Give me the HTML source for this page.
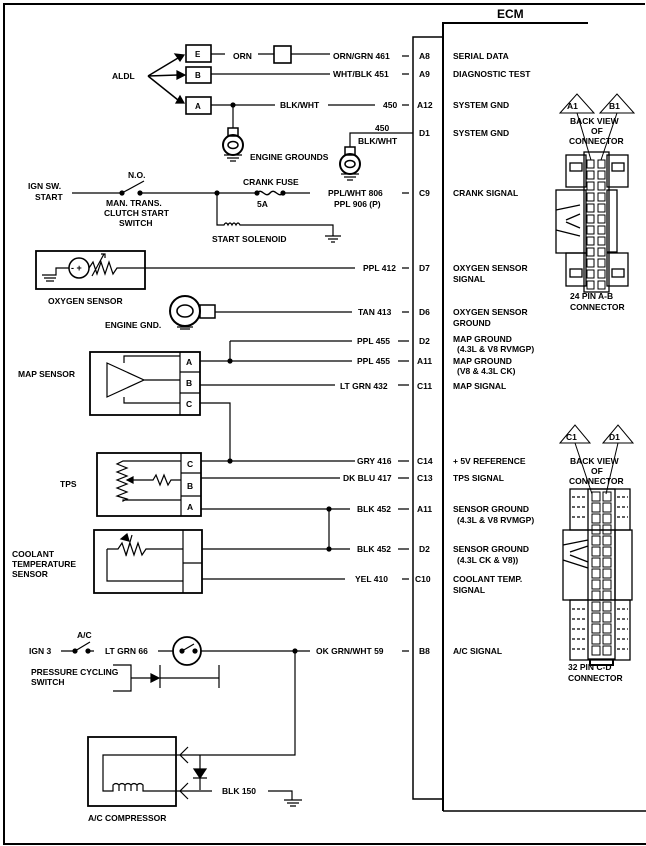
<!DOCTYPE html>
<html><head><meta charset="utf-8"><style>
html,body{margin:0;padding:0;background:#fff}
svg{display:block}
text{font-family:"Liberation Sans",sans-serif;font-weight:bold;font-size:8.5px;fill:#000}
</style></head><body>
<svg width="646" height="846" viewBox="0 0 646 846" xmlns="http://www.w3.org/2000/svg" stroke="#000" fill="none" stroke-width="1.2">
<!-- outer frame -->
<path d="M4 845 V4 H645" stroke-width="2"/>
<path d="M4 844 H646" stroke-width="2"/>
<!-- ECM -->
<path d="M443 811 V23 H588" stroke-width="2"/>
<path d="M443 811 H646" stroke-width="1.5"/>
<path d="M443 37 H413 V799 H443" stroke-width="1.5"/>
<text x="497" y="18" style="font-size:12px" stroke="none">ECM</text>
<!-- pin labels -->
<g stroke="none">
<text x="419" y="59">A8</text><text x="419" y="77">A9</text><text x="417" y="108">A12</text><text x="419" y="136">D1</text>
<text x="419" y="196">C9</text><text x="419" y="271">D7</text><text x="419" y="315">D6</text><text x="419" y="344">D2</text>
<text x="417" y="364">A11</text><text x="417" y="389">C11</text><text x="417" y="464">C14</text><text x="417" y="481">C13</text>
<text x="417" y="512">A11</text><text x="419" y="552">D2</text><text x="415" y="582">C10</text><text x="419" y="654">B8</text>
<text x="453" y="59">SERIAL DATA</text><text x="453" y="77">DIAGNOSTIC TEST</text><text x="453" y="108">SYSTEM GND</text><text x="453" y="136">SYSTEM GND</text>
<text x="453" y="196">CRANK SIGNAL</text>
<text x="453" y="271">OXYGEN SENSOR</text><text x="453" y="282">SIGNAL</text>
<text x="453" y="315">OXYGEN SENSOR</text><text x="453" y="326">GROUND</text>
<text x="453" y="342">MAP GROUND</text><text x="457" y="352">(4.3L &amp; V8 RVMGP)</text>
<text x="453" y="364">MAP GROUND</text><text x="457" y="374">(V8 &amp; 4.3L CK)</text>
<text x="453" y="389">MAP SIGNAL</text>
<text x="453" y="464">+ 5V REFERENCE</text><text x="453" y="481">TPS SIGNAL</text>
<text x="453" y="512">SENSOR GROUND</text><text x="457" y="523">(4.3L &amp; V8 RVMGP)</text>
<text x="453" y="552">SENSOR GROUND</text><text x="457" y="563">(4.3L CK &amp; V8))</text>
<text x="453" y="582">COOLANT TEMP.</text><text x="453" y="593">SIGNAL</text>
<text x="453" y="654">A/C SIGNAL</text>
</g>
<!-- pin stubs -->
<path d="M402 56H409M402 74H409M402 105H409M402 193H409M402 268H409M402 312H409M398 341H409M398 361H409M398 385H409M398 461H409M398 478H409M398 509H409M398 549H409M402 579H409M402 651H409"/>
<!-- ALDL -->
<g stroke="none"><text x="112" y="79">ALDL</text>
<text x="195" y="57" style="font-size:8px">E</text><text x="195" y="78" style="font-size:8px">B</text><text x="195" y="109" style="font-size:8px">A</text>
<text x="233" y="59">ORN</text><text x="333" y="59">ORN/GRN 461</text><text x="333" y="77">WHT/BLK 451</text>
<text x="280" y="108">BLK/WHT</text><text x="383" y="108">450</text>
<text x="250" y="160">ENGINE GROUNDS</text><text x="375" y="131">450</text><text x="358" y="144">BLK/WHT</text></g>
<path d="M148 76L178 58M148 76L178 75M148 76L178 100" stroke-width="1.5"/>
<path d="M184 55l-9-1 5 7zM185 75l-8-4v8zM184 103l-8 0 4-7z" fill="#000"/>
<rect x="186" y="45" width="25" height="17" stroke-width="1.6"/>
<rect x="186" y="67" width="25" height="16" stroke-width="1.6"/>
<rect x="186" y="97" width="25" height="17" stroke-width="1.6"/>
<rect x="274" y="46" width="17" height="17" stroke-width="1.6"/>
<path d="M211 54H225M258 54H274M291 54H330M211 74H330M211 105H275M328 105H375"/>
<circle cx="233" cy="105" r="2" fill="#000"/>
<path d="M233 105V128"/>
<rect x="228" y="128" width="10" height="8" stroke-width="1.5"/>
<circle cx="233" cy="145" r="10" stroke-width="2"/><ellipse cx="233" cy="145" rx="5" ry="3.5" stroke-width="1.5"/>
<path d="M224 155H242M227 158H239M230 161H236"/>
<path d="M413 133H350V147"/>
<rect x="345" y="147" width="10" height="8" stroke-width="1.5"/>
<circle cx="350" cy="164" r="10" stroke-width="2"/><ellipse cx="350" cy="164" rx="5" ry="3.5" stroke-width="1.5"/>
<path d="M341 174H359M344 177H356M347 180H353"/>
<!-- crank -->
<g stroke="none"><text x="28" y="189">IGN SW.</text><text x="35" y="200">START</text><text x="128" y="178">N.O.</text>
<text x="106" y="206">MAN. TRANS.</text><text x="104" y="216">CLUTCH START</text><text x="119" y="226">SWITCH</text>
<text x="243" y="185">CRANK FUSE</text><text x="257" y="207">5A</text>
<text x="328" y="196">PPL/WHT 806</text><text x="334" y="207">PPL 906 (P)</text><text x="212" y="242">START SOLENOID</text></g>
<path d="M72 193H122M140 193H257M283 193H310"/>
<path d="M122 193L144 181"/>
<circle cx="122" cy="193" r="2" fill="#000"/><circle cx="140" cy="193" r="2" fill="#000"/><circle cx="217" cy="193" r="2" fill="#000"/>
<circle cx="257" cy="193" r="2" fill="#000"/><circle cx="283" cy="193" r="2" fill="#000"/>
<path d="M257 193c5 -6 8 6 13 0c5-6 8 6 13 0" stroke-width="1.4"/>
<path d="M217 193V225H224q2-4 4 0q2-4 4 0q2-4 4 0q2-4 4 0H333V236M325 236H341M328 239H338M331 242H335"/>
<!-- O2 -->
<rect x="36" y="251" width="109" height="38" stroke-width="1.8"/>
<path d="M145 268H355"/>
<g stroke="none"><text x="363" y="271">PPL 412</text><text x="48" y="304">OXYGEN SENSOR</text>
<text x="358" y="315">TAN 413</text><text x="105" y="328">ENGINE GND.</text></g>
<circle cx="79" cy="268" r="10" stroke-width="1.5"/>
<text x="71" y="271" stroke="none" style="font-size:9px">- +</text>
<path d="M69 268H56V275H42M44 278H56M46 281H54"/>
<path d="M89 268l4 -6l4 12l4-12l4 12l4-12l4 12l4-6H145M92 276L104 254M101 254h4v4"/>
<circle cx="185" cy="311" r="15" stroke-width="2"/><ellipse cx="185" cy="311" rx="8" ry="6" stroke-width="1.6"/>
<rect x="200" y="305" width="15" height="13" stroke-width="1.5"/>
<path d="M215 312H352M177 327H193M180 329H190"/>
<!-- MAP -->
<rect x="90" y="352" width="110" height="63" stroke-width="1.8"/>
<path d="M180 352V415M180 372H200M180 393H200"/>
<g stroke="none" style="font-size:8px"><text x="186" y="365">A</text><text x="186" y="386">B</text><text x="186" y="407">C</text></g>
<path d="M107 363V397L144 380Z M124 363V356H180M144 380H180M124 397V403H180"/>
<path d="M200 361H352M230 341H352M230 341V361M200 385H335M200 403H230V461"/>
<circle cx="230" cy="361" r="2" fill="#000"/>
<g stroke="none"><text x="18" y="377">MAP SENSOR</text><text x="357" y="344">PPL 455</text><text x="357" y="364">PPL 455</text><text x="340" y="389">LT GRN 432</text>
<text x="60" y="487">TPS</text><text x="357" y="464">GRY 416</text><text x="343" y="481">DK BLU 417</text><text x="357" y="512">BLK 452</text>
<text x="357" y="552">BLK 452</text><text x="355" y="582">YEL 410</text>
<text x="12" y="557">COOLANT</text><text x="12" y="567">TEMPERATURE</text><text x="12" y="577">SENSOR</text></g>
<!-- TPS -->
<rect x="97" y="453" width="104" height="63" stroke-width="1.8"/>
<path d="M181 453V516M181 473H201M181 496H201"/>
<g stroke="none" style="font-size:8px"><text x="187" y="467">C</text><text x="187" y="489">B</text><text x="187" y="510">A</text></g>
<path d="M181 461H123l-6 3l10 4l-10 4l10 4l-10 4l10 4l-10 4l10 4l-10 4l10 3l-4 2V500H181M127 480H153l3-5l4 10l4-10l4 10l3-5H181"/>
<path d="M127 480l6-3v6z" fill="#000"/>
<path d="M201 461H355M201 478H340M201 509H350M329 509V549"/>
<circle cx="230" cy="461" r="2" fill="#000"/><circle cx="329" cy="509" r="2" fill="#000"/><circle cx="329" cy="549" r="2" fill="#000"/>
<!-- coolant -->
<rect x="94" y="530" width="108" height="63" stroke-width="1.8"/>
<path d="M183 530V593M183 563H202"/>
<path d="M107 549V581H183M107 549H118l4-6l4 12l4-12l4 12l4-12l4 12l4-6H183M126 556L132 535"/>
<path d="M127 534l-6 5l8 2z" fill="#000"/>
<path d="M202 549H350M202 579H345"/>
<!-- A/C -->
<g stroke="none"><text x="29" y="654">IGN 3</text><text x="77" y="638">A/C</text><text x="105" y="654">LT GRN 66</text>
<text x="316" y="654">OK GRN/WHT 59</text><text x="31" y="675">PRESSURE CYCLING</text><text x="31" y="685">SWITCH</text>
<text x="222" y="794">BLK 150</text><text x="88" y="821">A/C COMPRESSOR</text></g>
<path d="M61 651H75M88 651H94M75 651L90 642M158 651H173M201 651H310"/>
<circle cx="75" cy="651" r="2" fill="#000"/><circle cx="88" cy="651" r="2" fill="#000"/>
<circle cx="187" cy="651" r="14" stroke-width="1.8"/>
<path d="M182 651L194 644"/><circle cx="182" cy="651" r="2" fill="#000"/><circle cx="195" cy="651" r="2" fill="#000"/>
<circle cx="295" cy="651" r="2" fill="#000"/>
<path d="M113 665H131V691H113M131 678H152M160 665V688M160 678H219M219 665V688"/>
<path d="M159 678l-8-4v8z" fill="#000"/>
<path d="M295 651V755H180M200 755V790M180 791H212M268 791H292V800M284 800H302M287 803H299M290 806H296"/>
<path d="M193 778h14M200 778l-6-9h12z" fill="#000"/>
<rect x="88" y="737" width="88" height="69" stroke-width="1.8"/>
<path d="M188 747l-8 8l8 8M188 783l-8 8l8 8"/>
<path d="M180 755H103V791H113v-6q3-3 6 0v6v-6q3-3 6 0v6v-6q3-3 6 0v6v-6q3-3 6 0v6v-6q3-3 6 0v6H180"/>
<!-- 24 pin connector -->
<g stroke-width="1">
<path d="M560 113L577 94L594 113Z M600 113L617 94L634 113Z"/>
<path d="M577 113L591 160M617 113L601 160"/>
</g>
<g stroke="none" style="font-size:8px"><text x="567" y="109">A1</text><text x="609" y="109">B1</text>
<text x="570" y="124">BACK VIEW</text><text x="591" y="134">OF</text><text x="569" y="144">CONNECTOR</text>
<text x="570" y="299">24 PIN  A-B</text><text x="570" y="310">CONNECTOR</text></g>
<g stroke-width="1.3">
<rect x="566" y="155" width="20" height="32"/><rect x="607" y="155" width="21" height="32"/>
<rect x="556" y="190" width="30" height="63"/><rect x="607" y="190" width="10" height="62"/>
<rect x="566" y="253" width="20" height="33"/><rect x="607" y="253" width="21" height="33"/>
<rect x="584" y="152" width="25" height="140"/>
<rect x="570" y="163" width="12" height="8"/><rect x="612" y="163" width="12" height="8"/>
<rect x="570" y="269" width="12" height="8"/><rect x="612" y="269" width="12" height="8"/>
<path d="M556 210L580 205M556 230L580 236M566 220L580 214M566 222L580 228"/>
</g>
<g stroke-width="1">
<rect x="587" y="160" width="7" height="8"/><rect x="598" y="160" width="7" height="8"/>
<rect x="587" y="171" width="7" height="8"/><rect x="598" y="171" width="7" height="8"/>
<rect x="587" y="182" width="7" height="8"/><rect x="598" y="182" width="7" height="8"/>
<rect x="587" y="193" width="7" height="8"/><rect x="598" y="193" width="7" height="8"/>
<rect x="587" y="204" width="7" height="8"/><rect x="598" y="204" width="7" height="8"/>
<rect x="587" y="215" width="7" height="8"/><rect x="598" y="215" width="7" height="8"/>
<rect x="587" y="226" width="7" height="8"/><rect x="598" y="226" width="7" height="8"/>
<rect x="587" y="237" width="7" height="8"/><rect x="598" y="237" width="7" height="8"/>
<rect x="587" y="248" width="7" height="8"/><rect x="598" y="248" width="7" height="8"/>
<rect x="587" y="259" width="7" height="8"/><rect x="598" y="259" width="7" height="8"/>
<rect x="587" y="270" width="7" height="8"/><rect x="598" y="270" width="7" height="8"/>
<rect x="587" y="281" width="7" height="8"/><rect x="598" y="281" width="7" height="8"/>
</g>
<!-- 32 pin connector -->
<g stroke-width="1">
<path d="M560 443L575 425L590 443Z M603 443L618 425L633 443Z"/>
<path d="M575 443L592 494M618 443L606 494"/>
</g>
<g stroke="none" style="font-size:8px"><text x="566" y="440">C1</text><text x="609" y="440">D1</text>
<text x="570" y="464">BACK VIEW</text><text x="591" y="474">OF</text><text x="569" y="484">CONNECTOR</text>
<text x="568" y="670">32  PIN C-D</text><text x="568" y="681">CONNECTOR</text></g>
<g stroke-width="1.3">
<rect x="570" y="489" width="60" height="41"/><rect x="563" y="530" width="69" height="70"/>
<rect x="570" y="600" width="60" height="60"/>
<rect x="588" y="489" width="27" height="170"/>
<path d="M563 545L588 540M563 560L588 568M570 552L588 546M570 555L588 562M615 530V600"/>
<path d="M590 660V665H613V660" stroke-width="2"/>
<path d="M572 497H586M572 507H586M572 517H586M572 609H586M572 619H586M572 629H586M572 639H586M572 649H586M617 497H628M617 507H628M617 517H628M617 609H628M617 619H628M617 629H628M617 639H628M617 649H628" stroke-dasharray="3 2"/>
</g>
<g stroke-width="1">
<rect x="592" y="492" width="8" height="9"/><rect x="603" y="492" width="8" height="9"/>
<rect x="592" y="503" width="8" height="9"/><rect x="603" y="503" width="8" height="9"/>
<rect x="592" y="514" width="8" height="9"/><rect x="603" y="514" width="8" height="9"/>
<rect x="592" y="525" width="8" height="9"/><rect x="603" y="525" width="8" height="9"/>
<rect x="592" y="536" width="8" height="9"/><rect x="603" y="536" width="8" height="9"/>
<rect x="592" y="547" width="8" height="9"/><rect x="603" y="547" width="8" height="9"/>
<rect x="592" y="558" width="8" height="9"/><rect x="603" y="558" width="8" height="9"/>
<rect x="592" y="569" width="8" height="9"/><rect x="603" y="569" width="8" height="9"/>
<rect x="592" y="580" width="8" height="9"/><rect x="603" y="580" width="8" height="9"/>
<rect x="592" y="591" width="8" height="9"/><rect x="603" y="591" width="8" height="9"/>
<rect x="592" y="602" width="8" height="9"/><rect x="603" y="602" width="8" height="9"/>
<rect x="592" y="613" width="8" height="9"/><rect x="603" y="613" width="8" height="9"/>
<rect x="592" y="624" width="8" height="9"/><rect x="603" y="624" width="8" height="9"/>
<rect x="592" y="635" width="8" height="9"/><rect x="603" y="635" width="8" height="9"/>
<rect x="592" y="646" width="8" height="9"/><rect x="603" y="646" width="8" height="9"/>
</g>
</svg>
</body></html>
